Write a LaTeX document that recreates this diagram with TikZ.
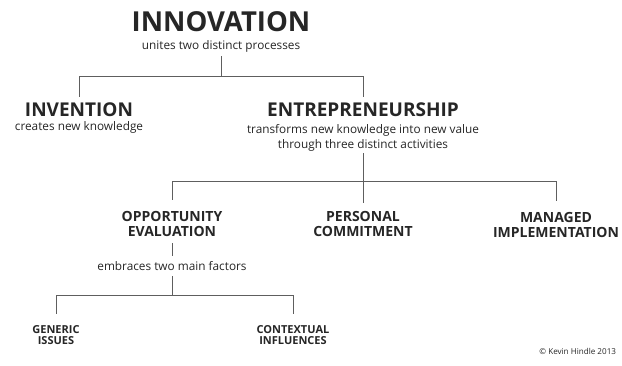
\documentclass[tikz,border=0pt]{standalone}
\usepackage{fontspec}
\setmainfont{Open Sans}
\usetikzlibrary{positioning}
\definecolor{inkgray}{HTML}{262626}
\definecolor{linegray}{HTML}{5E5E5E}

\begin{document}
\begin{tikzpicture}[
  x=1pt, y=-1pt,
  every node/.style={inner sep=0pt, outer sep=0pt, text=inkgray, anchor=base},
  headA/.style={font=\fontsize{27.5}{32}\selectfont\bfseries},
  headB/.style={font=\fontsize{19}{22}\selectfont\bfseries},
  headC/.style={font=\fontsize{14}{15.5}\selectfont\bfseries, align=center},
  headD/.style={font=\fontsize{11}{12}\selectfont\bfseries, align=center},
  note/.style={font=\fontsize{11.8}{15}\selectfont, align=center},
  link/.style={draw=linegray, line width=0.8pt},
]
\fill[white] (0,0) rectangle (622,366);
\useasboundingbox (0,0) rectangle (622,366);

% Top level
\node[headA] (innov) at (221,32) {INNOVATION};
\node[note] (unites) at (221,50) {unites two distinct processes};
\coordinate (bar1) at (221,76);

% Two processes
\node[headB] (invent) at (79,117) {INVENTION};
\node[note] (creates) at (79,131) {creates new knowledge};
\node[headB] (entre) at (363,117) {ENTREPRENEURSHIP};
% base of a two-line node = baseline of its last line
\node[note] (transf) at (363,149)
  {transforms new knowledge into new value\\through three distinct activities};
\coordinate (bar2) at (363,181);

\draw[link, shorten <=3.4pt] (unites) -- (bar1);
\draw[link, shorten >=6pt] (bar1) -| (invent);
\draw[link, shorten >=6pt] (bar1) -| (entre);

% Three activities
\node[headC] (oppo) at (172,237) {OPPORTUNITY\\EVALUATION};
\node[headC] (pers) at (363,237) {PERSONAL\\COMMITMENT};
\node[headC] (manage) at (556,238) {MANAGED\\IMPLEMENTATION};

\draw[link, shorten <=1.5pt, shorten >=8pt] (transf) -- (pers);
\draw[link, shorten >=11pt] (bar2) -| (oppo);
\draw[link, shorten >=11pt] (bar2) -| (manage);

% Two factors
\node[note] (embr) at (172,271) {embraces two main factors};
\coordinate (bar3) at (172,295);
\node[headD] (generic) at (56,345) {GENERIC\\ISSUES};
\node[headD] (context) at (293,345) {CONTEXTUAL\\INFLUENCES};

\draw[link, shorten <=6pt, shorten >=5.6pt] (oppo) -- (embr);
\draw[link, shorten <=5pt] (embr) -- (bar3);
\draw[link, shorten >=10.6pt] (bar3) -| (generic);
\draw[link, shorten >=10.6pt] (bar3) -| (context);

\node[font=\fontsize{8.1}{10}\selectfont, anchor=base east] (credit) at (616,355)
  {\copyright{} Kevin Hindle 2013};
\end{tikzpicture}
\end{document}
